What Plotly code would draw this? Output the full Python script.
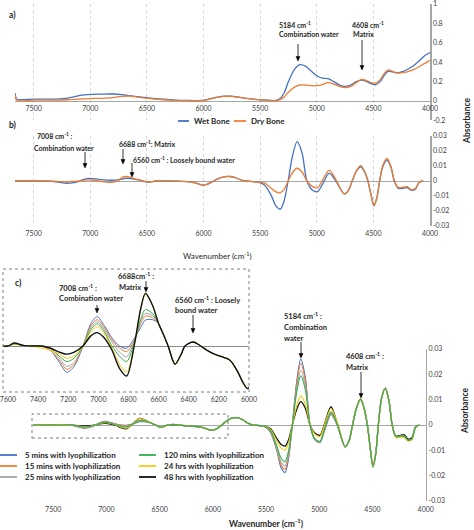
import plotly.graph_objects as go

W, H = 474, 530

# ---------------- data ----------------
# panel a : absorbance spectra
wn_abs = [7662, 7650, 7500, 7300, 7200, 7100, 7000, 6900, 6800, 6720,
          6650, 6550, 6450, 6350, 6250, 6150, 6050, 5980, 5900, 5820,
          5760, 5700, 5620, 5520, 5430, 5370, 5330, 5290, 5250, 5200,
          5150, 5100, 5050, 5000, 4950, 4900, 4850, 4800, 4750, 4700,
          4650, 4605, 4560, 4520, 4480, 4440, 4400, 4370, 4330, 4290,
          4250, 4200, 4150, 4100, 4050, 4000]
wet_abs = [0.08, 0.02, 0.02, 0.02, 0.03, 0.055, 0.068, 0.071, 0.072, 0.066,
           0.055, 0.04, 0.028, 0.018, 0.01, 0.006, 0.004, 0.012, 0.035, 0.05,
           0.05, 0.042, 0.028, 0.015, 0.008, 0.005, 0.02, 0.08, 0.2, 0.32,
           0.375, 0.36, 0.31, 0.26, 0.235, 0.23, 0.2, 0.165, 0.15, 0.165,
           0.2, 0.215, 0.2, 0.178, 0.168, 0.2, 0.27, 0.305, 0.3, 0.29,
           0.3, 0.325, 0.36, 0.41, 0.465, 0.5]
dry_abs = [0.06, 0.008, 0.008, 0.01, 0.013, 0.02, 0.025, 0.028, 0.035, 0.048,
           0.05, 0.035, 0.022, 0.013, 0.007, 0.004, 0.003, 0.01, 0.032, 0.047,
           0.048, 0.04, 0.026, 0.014, 0.007, 0.004, 0.012, 0.04, 0.09, 0.14,
           0.165, 0.165, 0.158, 0.158, 0.17, 0.19, 0.175, 0.15, 0.138, 0.15,
           0.19, 0.222, 0.21, 0.19, 0.185, 0.22, 0.29, 0.32, 0.305, 0.29,
           0.29, 0.3, 0.32, 0.35, 0.385, 0.42]

# panels b and c : derivative spectra
wn_der = [7690, 7600, 7560, 7500, 7440, 7380, 7320, 7260, 7210, 7160,
          7102, 7050, 7008, 6960, 6910, 6860, 6812, 6760, 6720, 6688,
          6640, 6600, 6570, 6537, 6491, 6450, 6425, 6372, 6330, 6281,
          6230, 6192, 6126, 6073, 6040, 6010, 5970, 5930, 5880, 5830,
          5770, 5720, 5670, 5620, 5570, 5520, 5462, 5400, 5360, 5322,
          5290, 5253, 5215, 5174, 5130, 5087, 5040, 4993, 4950, 4890,
          4830, 4758, 4720, 4690, 4650, 4612, 4580, 4550, 4520, 4495,
          4470, 4445, 4415, 4380, 4345, 4315, 4280, 4230, 4200, 4165,
          4130, 4095, 4060]

wet_der = [0, 0, 0, 0, 0, -0.0001, -0.0004, -0.0011, -0.0015, -0.0012,
           -0.0002, 0.0013, 0.0018, 0.0014, 0.0009, 0.0006, 0.0005, 0.0007, 0.0013, 0.0018,
           0.0016, 0.0011, 0.0007, 0, -0.0008, -0.0004, 0, 0.0002, 0.0001, 0,
           -0.0001, -0.0002, -0.0005, -0.0013, -0.0021, -0.0027, -0.0022, -0.0008, 0.0012, 0.0026,
           0.003, 0.0022, 0.0008, 0, -0.0004, -0.0008, -0.0026, -0.0099, -0.0168, -0.0188,
           -0.0137, 0, 0.0165, 0.0262, 0.0187, 0, -0.006, -0.0071, -0.0022, 0.0053,
           -0.0002, -0.0086, -0.0062, -0.0005, 0.0065, 0.0095, 0.0064, 0.0005, -0.0095, -0.0165,
           -0.0115, 0, 0.0098, 0.014, 0.0092, 0, -0.005, -0.0048, -0.0045, -0.0062,
           -0.0055, -0.0008, 0]
dry_der = [0, 0, 0, 0, 0, 0, -0.0001, -0.0004, -0.0005, -0.0003,
           0, 0.0006, 0.0008, 0.0005, -0.0002, -0.0008, -0.0009, 0.0001, 0.0022, 0.003,
           0.0024, 0.0013, 0.0008, 0.0001, -0.0008, -0.0004, 0, 0.0002, 0.0001, 0,
           -0.0001, -0.0002, -0.0005, -0.0013, -0.0021, -0.0027, -0.0022, -0.0008, 0.0012, 0.0026,
           0.003, 0.0022, 0.0008, 0, -0.0004, -0.0008, -0.0013, -0.005, -0.0073, -0.0078,
           -0.0057, 0, 0.0055, 0.0085, 0.006, 0, -0.0036, -0.0045, 0.0004, 0.0073,
           0.0008, -0.0086, -0.0062, -0.0005, 0.0068, 0.0102, 0.0068, 0.0005, -0.0095, -0.0165,
           -0.0115, 0, 0.0108, 0.015, 0.0098, 0, -0.0044, -0.004, -0.0038, -0.0058,
           -0.005, -0.0008, 0]

lyo_5min = [0, 0, 0.0001, 0.00003, 0, 0, -0.0002, -0.0008, -0.0013, -0.001,
            0, 0.0011, 0.00145, 0.001, 0.0004, 0, -0.00011, 0.0004, 0.0009, 0.00128,
            0.0013, 0.0011, 0.0006, 0, -0.0009, -0.0004, 0, 0.0002, 0.00005, -0.0002,
            -0.0004, -0.0005, -0.0007, -0.0013, -0.0018, -0.0021, -0.0016, -0.0005, 0.0013, 0.0026,
            0.0029, 0.0021, 0.0007, 0, -0.0002, -0.0005, -0.0026, -0.0099, -0.0168, -0.0188,
            -0.0137, 0, 0.0163, 0.026, 0.0185, 0, -0.006, -0.0069, -0.0022, 0.0042,
            -0.0002, -0.0086, -0.0062, -0.0005, 0.0068, 0.0102, 0.0068, 0.0005, -0.0095, -0.0165,
            -0.0115, 0, 0.0105, 0.0145, 0.0095, 0, -0.0047, -0.0044, -0.0045, -0.0061,
            -0.0056, -0.0008, 0]
lyo_15min = [0, 0, 0.0001, 0.00003, 0, 0, -0.0002, -0.0007, -0.00115, -0.0009,
             0, 0.001, 0.0013, 0.0009, 0.0003, -0.0001, -0.00028, 0.0003, 0.0011, 0.00148,
             0.0014, 0.0011, 0.0006, 0, -0.0009, -0.0004, 0, 0.0002, 0.00005, -0.0002,
             -0.0004, -0.0005, -0.0007, -0.0013, -0.0018, -0.0021, -0.0016, -0.0005, 0.0013, 0.0026,
             0.0029, 0.0021, 0.0007, 0, -0.0002, -0.0005, -0.0024, -0.0095, -0.0157, -0.0175,
             -0.0127, 0, 0.0153, 0.0244, 0.0173, 0, -0.0058, -0.0067, -0.002, 0.0045,
             -0.0001, -0.0086, -0.0062, -0.0005, 0.0068, 0.0102, 0.0068, 0.0005, -0.0095, -0.0165,
             -0.0115, 0, 0.0105, 0.0145, 0.0095, 0, -0.0047, -0.0043, -0.0044, -0.006,
             -0.0055, -0.0008, 0]
lyo_25min = [0, 0, 0.0001, 0.00003, 0, 0, -0.0001, -0.0006, -0.001, -0.0008,
             0, 0.0009, 0.0012, 0.0008, 0.0002, -0.0003, -0.00053, 0.0003, 0.0012, 0.00161,
             0.0015, 0.0011, 0.0006, 0, -0.0009, -0.0004, 0, 0.0002, 0.00005, -0.0002,
             -0.0004, -0.0005, -0.0007, -0.0013, -0.0018, -0.0021, -0.0016, -0.0005, 0.0013, 0.0026,
             0.0029, 0.0021, 0.0007, 0, -0.0002, -0.0005, -0.0022, -0.009, -0.0145, -0.0162,
             -0.0118, 0, 0.0135, 0.0215, 0.0153, 0, -0.0057, -0.0066, -0.0018, 0.0048,
             0, -0.0086, -0.0062, -0.0005, 0.0068, 0.0102, 0.0068, 0.0005, -0.0095, -0.0165,
             -0.0115, 0, 0.0105, 0.0145, 0.0095, 0, -0.0046, -0.0043, -0.0044, -0.006,
             -0.0055, -0.0008, 0]
lyo_120min = [0, 0, 0.0001, 0.00003, 0, 0, -0.0001, -0.0005, -0.00077, -0.0006,
              0, 0.0008, 0.0011, 0.0007, 0, -0.0005, -0.00077, 0.0002, 0.0013, 0.0018,
              0.0016, 0.0011, 0.0006, 0, -0.0009, -0.0004, 0, 0.0002, 0.00005, -0.0002,
              -0.0004, -0.0005, -0.0007, -0.0013, -0.0018, -0.0021, -0.0016, -0.0005, 0.0013, 0.0026,
              0.0029, 0.0021, 0.0007, 0, -0.0002, -0.0005, -0.002, -0.0082, -0.013, -0.0145,
              -0.0105, 0, 0.0122, 0.0194, 0.0138, 0, -0.0055, -0.0064, -0.0015, 0.0052,
              0.0002, -0.0086, -0.0062, -0.0005, 0.0068, 0.0102, 0.0068, 0.0005, -0.0095, -0.0165,
              -0.0115, 0, 0.0105, 0.0145, 0.0095, 0, -0.0046, -0.0043, -0.0044, -0.006,
              -0.0055, -0.0008, 0]
lyo_24h = [0, 0, 0.0001, 0.00003, 0, -0.0001, -0.0002, -0.0004, -0.0006, -0.0005,
           0, 0.0007, 0.00095, 0.0006, -0.0001, -0.0009, -0.00127, 0.0001, 0.0018, 0.00255,
           0.002, 0.0011, 0.0006, 0, -0.0009, -0.0004, 0, 0.0002, 0.00005, -0.0002,
           -0.0004, -0.0005, -0.0007, -0.0013, -0.0018, -0.0021, -0.0016, -0.0005, 0.0013, 0.0026,
           0.0029, 0.0021, 0.0007, 0, -0.0002, -0.0005, -0.0015, -0.0062, -0.009, -0.0099,
           -0.0072, 0, 0.0072, 0.0115, 0.0082, 0, -0.0037, -0.0045, 0.0002, 0.0065,
           0.001, -0.0086, -0.0062, -0.0005, 0.0068, 0.0102, 0.0068, 0.0005, -0.0095, -0.0165,
           -0.0115, 0, 0.0105, 0.0145, 0.0095, 0, -0.005, -0.0048, -0.005, -0.0064,
           -0.0058, -0.0009, 0]
lyo_48h = [0, 0, 0.00015, 0.00003, 0, 0, -0.0001, -0.0003, -0.0004, -0.0003,
           0, 0.0005, 0.00066, 0.0004, -0.0002, -0.0011, -0.00148, 0.0001, 0.0018, 0.0026,
           0.002, 0.0011, 0.0006, 0, -0.0009, -0.0004, 0, 0.0002, 0.00005, -0.0002,
           -0.0004, -0.0005, -0.0007, -0.0013, -0.0018, -0.0021, -0.0016, -0.0005, 0.0013, 0.0026,
           0.0029, 0.0021, 0.0007, 0, -0.0002, -0.0005, -0.0013, -0.0053, -0.0076, -0.0083,
           -0.006, 0, 0.0058, 0.0092, 0.0065, 0, -0.0033, -0.004, 0.0005, 0.0072,
           0.0005, -0.0086, -0.0062, -0.0005, 0.0068, 0.0102, 0.0068, 0.0005, -0.0095, -0.0165,
           -0.0115, 0, 0.0105, 0.0145, 0.0095, 0, -0.0044, -0.004, -0.0039, -0.0056,
           -0.005, -0.0008, 0]

lyo_names = ["5 mins with lyophilization", "15 mins with lyophilization",
             "25 mins with lyophilization", "120 mins with lyophilization",
             "24 hrs with lyophilization", "48 hrs with lyophilization"]

x_ticks = [7500, 7000, 6500, 6000, 5500, 5000, 4500, 4000]
x_ticks_inset = [7600, 7400, 7200, 7000, 6800, 6600, 6400, 6200, 6000]
y_ticks_a = [-0.2, 0, 0.2, 0.4, 0.6, 0.8, 1]
y_ticktext_a = ["-0.2", "0", "0.2", "0.4", "0.6", "0.8", "1"]
y_ticks_d = [-0.03, -0.02, -0.01, 0, 0.01, 0.02, 0.03]
y_ticktext_d = ["-0.03", "-0.02", "-0.01", "0", "0.01", "0.02", "0.03"]

# ---------------- styling ----------------
BLUE, ORANGE, GRAY, GREEN, YELLOW, BLACK = "#4472C4", "#ED7D31", "#A5A5A5", "#2FB04E", "#F5CB12", "#111111"
lyo_colors = [BLUE, ORANGE, GRAY, GREEN, YELLOW, BLACK]
lyo_data = [lyo_5min, lyo_15min, lyo_25min, lyo_120min, lyo_24h, lyo_48h]
FONT = "Lato"
TXT = "#262626"
TICKF = dict(family=FONT, size=7, color="#404040")


def px(x):
    return x / W


def py(y):
    return 1 - y / H


fig = go.Figure()


def add(x, y, color, width, xa, ya):
    fig.add_trace(go.Scatter(x=x, y=y, mode="lines",
                             line=dict(color=color, width=width, shape="spline", smoothing=0.8),
                             xaxis=xa, yaxis=ya, showlegend=False, hoverinfo="skip"))


# panel a
add(wn_abs, wet_abs, BLUE, 1.3, "x", "y")
add(wn_abs, dry_abs, ORANGE, 1.3, "x", "y")
# panel b
add(wn_der, wet_der, BLUE, 1.3, "x2", "y2")
add(wn_der, dry_der, ORANGE, 1.3, "x2", "y2")
# panel c main (green drawn last)
for i in [5, 0, 1, 2, 4, 3]:
    add(wn_der, lyo_data[i], lyo_colors[i], 1.3 if i == 5 else 1.1, "x3", "y3")
# panel c inset (black drawn last)
for i in [0, 1, 2, 3, 4, 5]:
    add(wn_der, lyo_data[i], lyo_colors[i], 1.4 if i == 5 else 1.0, "x4", "y4")

AXLINE = "#A6A6A6"


def xaxis(dom, rng, ticks, anchor, grid, **kw):
    d = dict(domain=dom, range=rng, tickvals=ticks, ticktext=[str(t) for t in ticks],
             tickfont=TICKF, ticks="", showline=False, zeroline=False, automargin=False,
             showgrid=grid, gridcolor="#D5D5D5", griddash="dot", gridwidth=1,
             anchor=anchor, fixedrange=True, ticklabeloverflow="allow")
    d.update(kw)
    return d


def yaxis(dom, rng, ticks, text, anchor, show=True):
    return dict(domain=dom, range=rng, tickvals=ticks, ticktext=text, tickfont=TICKF,
                ticks="", side="right", anchor=anchor, showline=show, linecolor=AXLINE,
                linewidth=1.5, showgrid=False, zeroline=True, zerolinecolor="#A6A6A6",
                zerolinewidth=1, showticklabels=show, fixedrange=True, automargin=False,
                ticklabeloverflow="allow")


layout = dict(
    width=W, height=H, autosize=False,
    margin=dict(l=0, r=0, t=0, b=0, pad=0, autoexpand=False),
    paper_bgcolor="white", plot_bgcolor="rgba(0,0,0,0)",
    showlegend=False,
    xaxis=xaxis([px(15), px(430)], [7665, 4000], x_ticks, "free", True,
                position=py(101), ticklabelstandoff=2),
    yaxis=yaxis([py(120.4), py(4)], [-0.2, 1], y_ticks_a, y_ticktext_a, "x"),
    xaxis2=xaxis([px(15), px(430)], [7665, 4000], x_ticks, "y2", True, ticklabelstandoff=2),
    yaxis2=yaxis([py(226), py(136)], [-0.03, 0.03], y_ticks_d, y_ticktext_d, "x2"),
    xaxis3=xaxis([px(33), px(425.7)], [7690, 4000], x_ticks, "y3", False, ticklabelstandoff=3),
    yaxis3=yaxis([py(501), py(349)], [-0.03, 0.03], y_ticks_d, y_ticktext_d, "x3"),
    xaxis4=xaxis([px(3), px(249)], [7633, 6000], x_ticks_inset, "y4", False, ticklabelstandoff=2),
    yaxis4=yaxis([py(392), py(269)], [-0.00227, 0.0038], [], [], "x4", show=False),
)
layout["yaxis4"]["zerolinecolor"] = "#8C8C8C"

ann = []
shapes = []


def text(x, y, s, size=7, bold=True, anchor="left", color=TXT, angle=0):
    ann.append(dict(xref="paper", yref="paper", x=px(x), y=py(y), text=s, showarrow=False,
                    xanchor=anchor, yanchor="middle", textangle=angle,
                    font=dict(family=FONT, size=size, color=color,
                              weight="bold" if bold else "normal")))


def arrow(x, y0, y1):
    # shaft
    shapes.append(dict(type="line", xref="paper", yref="paper", x0=px(x), x1=px(x),
                       y0=py(y0), y1=py(y1 - 3), line=dict(color="#000000", width=0.8)))
    # head
    path = "M {:.5f},{:.5f} L {:.5f},{:.5f} L {:.5f},{:.5f} Z".format(
        px(x - 2), py(y1 - 4.5), px(x + 2), py(y1 - 4.5), px(x), py(y1))
    shapes.append(dict(type="path", xref="paper", yref="paper", path=path,
                       fillcolor="#000000", line=dict(color="#000000", width=0.5)))


def hline(x0, x1, y, color, width=1.8):
    shapes.append(dict(type="line", xref="paper", yref="paper", x0=px(x0), x1=px(x1),
                       y0=py(y), y1=py(y), line=dict(color=color, width=width)))


def box(x0, y0, x1, y1):
    shapes.append(dict(type="rect", xref="paper", yref="paper", x0=px(x0), x1=px(x1),
                       y0=py(y1), y1=py(y0), line=dict(color="#7F7F7F", width=1, dash="dot"),
                       fillcolor="rgba(0,0,0,0)"))


# panel a texts
text(7, 15, "a)", 8.5)
text(277, 25, "5184 cm<sup>-1</sup>")
text(277, 34, "Combination water")
arrow(298, 44, 61)
text(350, 25, "4608 cm<sup>-1</sup>")
text(351, 34, "Matrix")
arrow(362, 40, 70)

# panel b texts
text(7, 125, "b)", 8.5)
hline(178, 189, 121, BLUE)
text(192, 121, "Wet Bone", 8)
hline(234, 246, 121, ORANGE)
text(249, 121, "Dry Bone", 8)
text(35, 136, "7008 cm<sup>-1</sup> :")
text(32, 148, "Combination water")
arrow(85, 152, 168)
text(117, 144, "6688 cm<sup>-1</sup>: Matrix")
arrow(123, 149, 164)
text(131, 159, "6560 cm<sup>-1</sup> : Loosely bound water")
arrow(132, 163, 177)
text(217, 255, "Wavenumber (cm<sup>-1</sup>)", 8, bold=False, anchor="center")
text(467, 121, "Absorbance", 8.5, angle=-90, anchor="center")

# panel c inset texts
box(3, 269, 249, 392)
text(13, 283, "c)", 8.5)
text(57, 288, "7008 cm<sup>-1</sup> :", 7.5)
text(57, 298, "Combination water", 7.5)
arrow(97, 305, 313)
text(116, 276, "6688cm<sup>-1</sup> :", 7.5)
text(117, 287, "Matrix", 7.5)
arrow(146, 281, 292)
text(173, 300, "6560 cm<sup>-1</sup> : Loosely", 7.5)
text(173, 310, "bound water", 7.5)
arrow(193, 315, 333)

# panel c main texts
box(32, 414, 228, 438)
text(282, 316, "5184 cm<sup>-1</sup> :", 7.5)
text(282, 327, "Combination", 7.5)
text(282, 338, "water", 7.5)
arrow(301, 342, 358)
text(344, 356, "4608 cm<sup>-1</sup> :", 7.5)
text(344, 367, "Matrix", 7.5)
arrow(361, 372, 398)
text(266, 523, "Wavenumber (cm<sup>-1</sup>)", 8.5, anchor="center")
text(465, 411, "Absorbance", 8.5, angle=-90, anchor="center")

# panel c legend (two columns)
leg_pos = [(0, 455), (0, 466), (0, 477), (139, 455), (139, 466), (139, 477)]
for (lx, ly), name, col in zip(leg_pos, lyo_names, lyo_colors):
    hline(lx, lx + 17, ly, col, 1.8)
    text(lx + 23, ly, name, 8)

layout["annotations"] = ann
layout["shapes"] = shapes
fig.update_layout(**layout)
fig.write_html("out.html",
               config={"displayModeBar": False, "staticPlot": True},
               post_script=("document.documentElement.style.margin='0';"
                            "document.documentElement.style.overflow='hidden';"
                            "document.body.style.margin='0';"
                            "document.body.style.padding='0';"
                            "document.body.style.overflow='hidden';"))
